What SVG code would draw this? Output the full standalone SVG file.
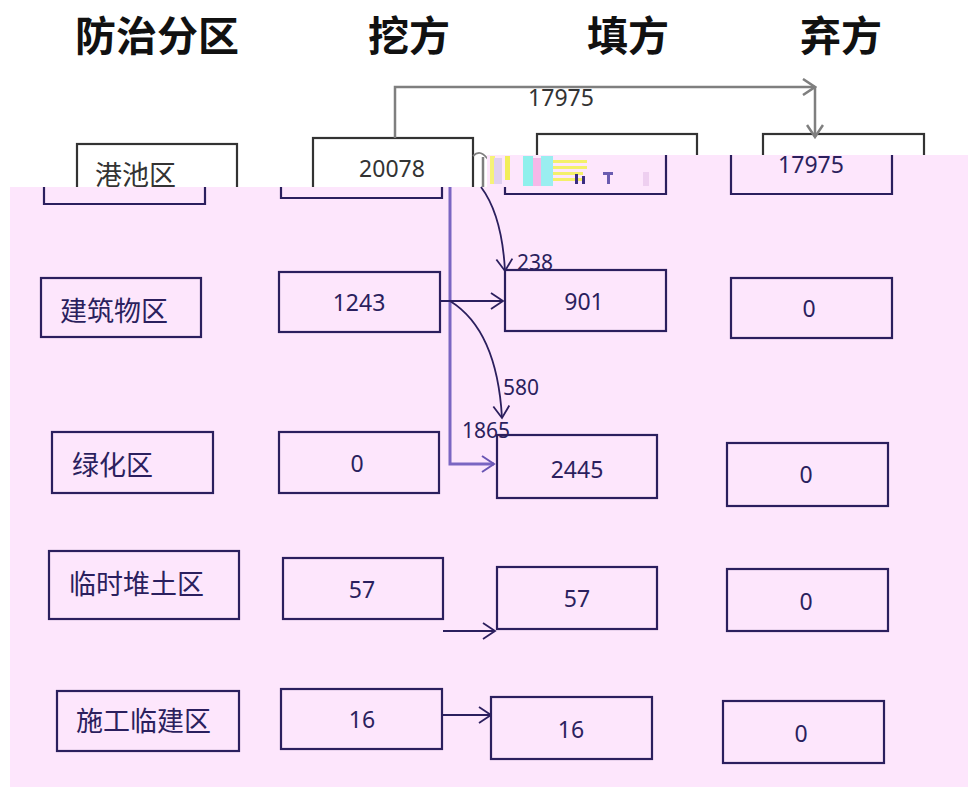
<svg xmlns="http://www.w3.org/2000/svg" width="968" height="787" viewBox="0 0 968 787">
<defs>
<style>
.hdr{font-family:"Noto Sans CJK SC","Noto Sans",sans-serif;font-weight:bold;font-size:41px;fill:#111}
.tb{fill:#fff;stroke:#333;stroke-width:2.2}
.pb{fill:#fde6fc;stroke:#2b1f5e;stroke-width:2.2}
.po{fill:none;stroke:#2b1f5e;stroke-width:2.2}
.zh{font-family:"Noto Sans CJK SC",sans-serif;font-size:27px;fill:#2b1f5e}
.num{font-family:"Noto Sans","Open Sans",sans-serif;font-size:23px;fill:#2b1f5e;text-anchor:middle}
.lbl{font-family:"Noto Sans","Open Sans",sans-serif;font-size:21px;fill:#2b1f5e}
.gline{fill:none;stroke:#7f7f7f;stroke-width:2.5}
.nline{fill:none;stroke:#2b1f5e;stroke-width:1.8}
.vline{fill:none;stroke:#7a66c2;stroke-width:3}
</style>
<marker id="ag" viewBox="-14 -9 16 18" refX="0" refY="0" markerWidth="16" markerHeight="18" markerUnits="userSpaceOnUse" orient="auto"><path d="M-12,-8 L0,0 L-12,8" fill="none" stroke="#7f7f7f" stroke-width="2.5"/></marker>
<marker id="an" viewBox="-14 -9 16 18" refX="0" refY="0" markerWidth="16" markerHeight="18" markerUnits="userSpaceOnUse" orient="auto"><path d="M-12,-8 L0,0 L-12,8" fill="none" stroke="#2b1f5e" stroke-width="1.8"/></marker>
<marker id="av" viewBox="-14 -9 16 18" refX="0" refY="0" markerWidth="16" markerHeight="18" markerUnits="userSpaceOnUse" orient="auto"><path d="M-12,-8 L0,0 L-12,8" fill="none" stroke="#6a56b4" stroke-width="2"/></marker>
</defs>
<rect width="968" height="787" fill="#fff"/>
<g id="headers">
<text class="hdr" x="75" y="51">防治分区</text>
<text class="hdr" x="368" y="51">挖方</text>
<text class="hdr" x="587" y="51">填方</text>
<text class="hdr" x="800" y="51">弃方</text>
</g>
<g id="top-row-white">
<g id="n-gangchi-top"><rect class="tb" x="77" y="144" width="160" height="70"/><text x="95" y="185" class="zh" style="fill:#333">港池区</text></g>
<g id="n-20078-top"><rect class="tb" x="313" y="138" width="160" height="70"/><text x="392" y="177" class="num" style="fill:#333">20078</text></g>
<g id="n-fill1-top"><rect class="tb" x="537" y="134" width="160" height="60"/></g>
<g id="n-aband1-top"><rect class="tb" x="763" y="134" width="161" height="60"/></g>
</g>
<g id="top-connectors">
<path class="gline" d="M395,138 V87 H815" marker-end="url(#ag)"/>
<path class="gline" d="M815,87 V137" marker-end="url(#ag)"/>
<text x="561" y="106" text-anchor="middle" style="font-family:'Noto Sans',sans-serif;font-size:23px;fill:#333">17975</text>
<path class="gline" style="stroke-width:1.8" d="M473,156 Q481,148 489,161"/>
<path class="gline" d="M483,157 V187"/>
</g>
<path id="pink-bg" d="M10,187 H487 V155 H968 V787 H10 Z" fill="#fde6fc"/>
<g id="noise">
<rect x="490" y="156" width="5" height="28" fill="#f6f27a"/>
<rect x="494" y="158" width="8" height="26" fill="#e0d0f0"/>
<rect x="505" y="156" width="5" height="24" fill="#f2ee5a"/>
<rect x="523" y="156" width="10" height="30" fill="#8ff0ec"/>
<rect x="533" y="158" width="8" height="28" fill="#f5b8e8"/>
<rect x="541" y="156" width="12" height="30" fill="#9aeef0"/>
<rect x="553" y="160" width="34" height="3" fill="#f4f06a"/>
<rect x="553" y="166" width="34" height="3" fill="#f4f06a"/>
<rect x="553" y="172" width="30" height="3" fill="#f4f06a"/>
<rect x="553" y="178" width="30" height="3" fill="#f4f06a"/>
<rect x="575" y="174" width="3" height="10" fill="#3a2c80"/>
<rect x="582" y="176" width="3" height="8" fill="#3a2c80"/>
<rect x="603" y="172" width="10" height="3" fill="#6a5cb0"/>
<rect x="607" y="172" width="3" height="12" fill="#6a5cb0"/>
<rect x="643" y="172" width="6" height="14" fill="#eecff0"/>
</g>
<g id="connectors">
<path class="vline" d="M450,187 V464 H494" marker-end="url(#av)"/>
<path class="nline" d="M440,301 H503" marker-end="url(#an)"/>
<path class="nline" d="M481,187 Q502,215 505,271" marker-end="url(#an)"/>
<path class="nline" d="M450,301 Q497,330 502,418" marker-end="url(#an)"/>
<path class="nline" d="M443,631 H495" marker-end="url(#an)"/>
<path class="nline" d="M442,715 H491" marker-end="url(#an)"/>
</g>
<g id="row1">
<g id="n-gangchi"><path class="po" d="M44,187 V204 H205 V187"/></g>
<g id="n-wa1"><path class="po" d="M281,187 V198 H442 V187"/></g>
<g id="n-tian1"><path class="po" d="M505,187 V194 H666 V155"/></g>
<g id="n-qi1"><path class="po" d="M731,155 V194 H892 V155"/><text x="811" y="173" class="num">17975</text></g>
</g>
<g id="row2">
<g id="n-jianzhu"><rect class="pb" x="41" y="278" width="160" height="59"/><text x="60" y="321" class="zh">建筑物区</text></g>
<g id="n-wa2"><rect class="pb" x="279" y="272" width="161" height="60"/><text x="359" y="311" class="num">1243</text></g>
<g id="n-tian2"><rect class="pb" x="505" y="270" width="161" height="61"/><text x="584" y="310" class="num">901</text></g>
<g id="n-qi2"><rect class="pb" x="731" y="278" width="161" height="60"/><text x="809" y="317" class="num">0</text></g>
</g>
<g id="row3">
<g id="n-lvhua"><rect class="pb" x="52" y="432" width="161" height="61"/><text x="72" y="475" class="zh">绿化区</text></g>
<g id="n-wa3"><rect class="pb" x="279" y="432" width="160" height="61"/><text x="357" y="472" class="num">0</text></g>
<g id="n-tian3"><rect class="pb" x="497" y="435" width="160" height="63"/><text x="577" y="478" class="num">2445</text></g>
<g id="n-qi3"><rect class="pb" x="727" y="443" width="161" height="63"/><text x="806" y="483" class="num">0</text></g>
</g>
<g id="row4">
<g id="n-linshi"><rect class="pb" x="49" y="551" width="190" height="68"/><text x="69" y="594" class="zh">临时堆土区</text></g>
<g id="n-wa4"><rect class="pb" x="283" y="558" width="160" height="61"/><text x="362" y="598" class="num">57</text></g>
<g id="n-tian4"><rect class="pb" x="497" y="567" width="160" height="62"/><text x="577" y="607" class="num">57</text></g>
<g id="n-qi4"><rect class="pb" x="727" y="569" width="161" height="62"/><text x="806" y="610" class="num">0</text></g>
</g>
<g id="row5">
<g id="n-shigong"><rect class="pb" x="57" y="691" width="182" height="60"/><text x="76" y="731" class="zh">施工临建区</text></g>
<g id="n-wa5"><rect class="pb" x="281" y="689" width="161" height="60"/><text x="362" y="728" class="num">16</text></g>
<g id="n-tian5"><rect class="pb" x="491" y="697" width="161" height="62"/><text x="571" y="738" class="num">16</text></g>
<g id="n-qi5"><rect class="pb" x="723" y="701" width="161" height="62"/><text x="801" y="742" class="num">0</text></g>
</g>
<g id="labels">
<text class="lbl" x="517" y="270">238</text>
<text class="lbl" x="503" y="395">580</text>
<text class="lbl" x="462" y="438">1865</text>
</g>
</svg>
